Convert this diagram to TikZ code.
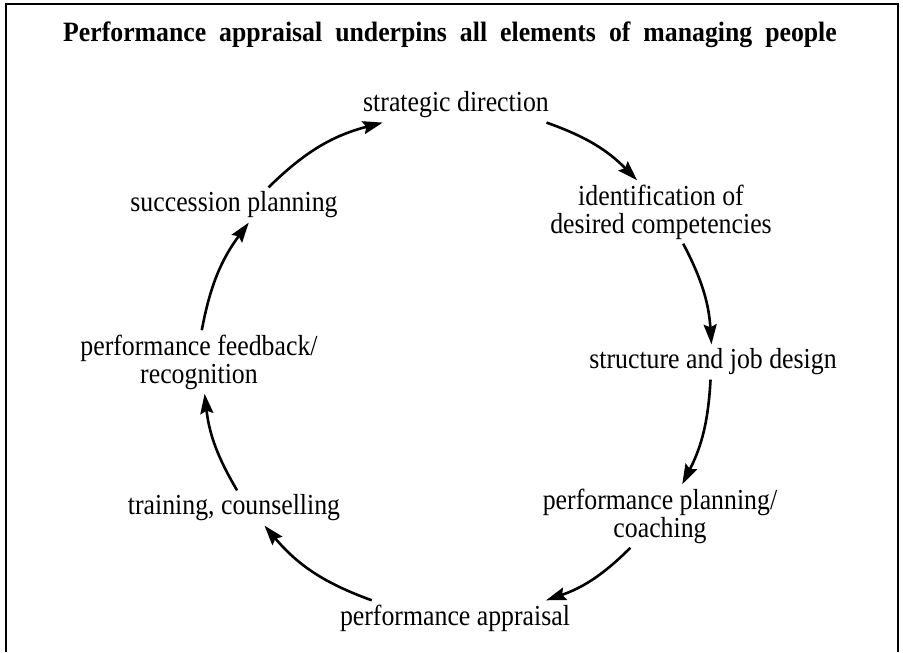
\documentclass[tikz,border=0pt]{standalone}
\usepackage{fontspec}
\setmainfont{Liberation Serif}[FakeStretch=0.89]
\newfontfamily\headfam{Liberation Serif}[FakeStretch=0.92]
\usetikzlibrary{arrows.meta}
\newcommand\headfont{\headfam\fontsize{14}{16}\selectfont\bfseries\spaceskip=6.5pt\relax}
\tikzset{
  stage/.style ={align=center, inner sep=2pt, font=\fontsize{14.5}{14}\selectfont},
  heading/.style={inner sep=0pt, font=\headfont},
  arr/.style   ={-{Stealth[length=10pt, width=6.5pt, inset=1.5pt]}, line width=1.3pt},
}

\begin{document}
\begin{tikzpicture}[x=0.5pt, y=0.5pt]
  \useasboundingbox (0,0) rectangle (903,652);

  % open frame (no bottom edge)
  \draw[line width=1.4pt] (6,0) -- (6,648) -- (898,648) -- (898,0);

  \node[heading] (title) at (450,617) {Performance appraisal underpins all elements of managing people};

  % stages round the cycle, clockwise from the top
  \node[stage] (strat)  at (456,547) {strategic direction};
  \node[stage] (ident)  at (661,440) {identification of\\desired competencies};
  \node[stage] (struct) at (713,290) {structure and job design};
  \node[stage] (plan)   at (660,136) {performance planning/\\coaching};
  \node[stage] (appr)   at (455,34)  {performance appraisal};
  \node[stage] (train)  at (234,144) {training, counselling};
  \node[stage] (feed)   at (199,290) {performance feedback/\\recognition};
  \node[stage] (succ)   at (234,447) {succession planning};

  % arrows
  \draw[arr] (strat.-11)  to[bend left=13] (ident.127);
  \draw[arr] (ident.-55)  to[bend left=12] (struct.95);
  \draw[arr] (struct.-98) to[bend left=12] (plan.55);
  \draw[arr] (plan.-133)  to[bend left=13] (appr.11);
  \draw[arr] (appr.168)   to[bend left=15] (train.-30);
  \draw[arr] (train.80)   to[bend left=12] (feed.-80);
  \draw[arr] (feed.85)    to[bend left=13] (succ.-50);
  \draw[arr] (succ.27)    to[bend left=15] ([xshift=12pt]strat.south west);
\end{tikzpicture}
\end{document}
